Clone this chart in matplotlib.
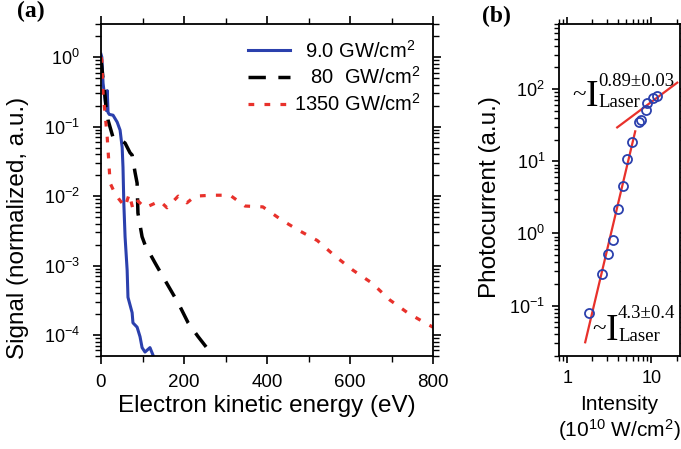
import matplotlib
matplotlib.use("Agg")
import matplotlib.pyplot as plt
from matplotlib.ticker import LogLocator, NullFormatter, MultipleLocator

plt.rcParams["font.family"] = ["Liberation Sans", "DejaVu Sans"]
plt.rcParams["mathtext.fontset"] = "custom"
plt.rcParams["mathtext.rm"] = "Liberation Sans"
plt.rcParams["mathtext.it"] = "Liberation Sans:italic"
plt.rcParams["mathtext.bf"] = "Liberation Sans:bold"

# (a) photoelectron spectra
e_9 = [0, 2, 5, 10, 13, 15, 17, 20, 29, 39, 46, 51, 53, 55, 58, 63, 65, 75, 77, 87, 94, 99, 106, 118, 125]
s_9 = [1.1, 1.0, 0.42, 0.24, 0.17, 0.33, 0.16, 0.15, 0.146, 0.116, 0.089, 0.05, 0.026, 0.0079,
       0.0026, 0.00086, 0.00035, 0.00021, 0.00015, 0.00013, 0.000095, 0.000066, 0.000057,
       0.000066, 0.000052]

e_80 = [0, 2, 5, 10, 12, 17, 29, 41, 51, 58, 70, 75, 82, 87, 89, 99, 106, 130, 147, 178, 190,
        210, 234, 265]
s_80 = [0.9, 0.72, 0.47, 0.27, 0.19, 0.124, 0.07, 0.064, 0.062, 0.058, 0.042, 0.039, 0.022,
        0.0154, 0.0057, 0.0026, 0.002, 0.0011, 0.00073, 0.00035, 0.00026, 0.00015, 0.000095,
        0.000055]

e_1350 = [0, 2, 3, 5, 10, 15, 19, 22, 31, 43, 58, 68, 77, 89, 106, 142, 159, 186, 207, 227, 267,
          311, 347, 390, 436, 477, 521, 564, 607, 653, 696, 740, 786, 800]
s_1350 = [1.0, 0.9, 0.6, 0.3, 0.15, 0.07, 0.03, 0.0154, 0.0118, 0.0091, 0.007, 0.0107, 0.0065,
          0.0085, 0.0068, 0.0085, 0.0068, 0.0100, 0.0080, 0.0100, 0.0103, 0.0103, 0.0072,
          0.0070, 0.0045, 0.0032, 0.0023, 0.00137, 0.00086, 0.00056, 0.00032, 0.000207,
          0.000144, 0.00013]

labels_a = ["  9.0 GW/cm$^2$", "   80  GW/cm$^2$", "1350 GW/cm$^2$"]

# (b) photocurrent vs intensity (10^10 W/cm^2)
intensity = [1.83, 2.61, 3.08, 3.53, 4.05, 4.64, 5.18, 5.9, 7.2, 7.6, 8.7, 9.0, 10.6, 11.8]
photocurrent = [0.08, 0.27, 0.52, 0.80, 2.2, 4.5, 10.6, 18.5, 34.5, 37, 52, 65, 76, 81]

# power-law fit lines, end points
fit_hi_x = [1.64, 6.45]
fit_hi_y = [0.031, 26]
fit_lo_x = [3.94, 20.4]
fit_lo_y = [29.5, 123]

blue = "#2b40ad"
red = "#e8312b"

fig = plt.figure(figsize=(6.81, 4.49), dpi=100)
W, H = 681.0, 449.0

ax = fig.add_axes([101 / W, 1 - 356 / H, 332 / W, 332 / H])
ax.plot(e_9, s_9, color=blue, lw=2.2, label=labels_a[0])
ax.plot(e_80, s_80, color="black", lw=2.5, dashes=(5, 3.6), label=labels_a[1])
ax.plot(e_1350, s_1350, color=red, lw=2.3, dashes=(1.8, 3.2), label=labels_a[2])
ax.set_yscale("log")
ax.set_xlim(0, 800)
ax.set_ylim(5e-5, 3)
ax.xaxis.set_major_locator(MultipleLocator(200))
ax.xaxis.set_minor_locator(MultipleLocator(100))
ax.yaxis.set_major_locator(LogLocator(base=10, numticks=10))
ax.yaxis.set_minor_locator(LogLocator(base=10, subs=range(2, 10), numticks=20))
ax.yaxis.set_minor_formatter(NullFormatter())
ax.tick_params(which="both", direction="out", top=True, right=True)
ax.tick_params(which="major", length=6, width=1.2)
ax.tick_params(which="minor", length=4, width=1.0)
ax.tick_params(axis="x", labelsize=13.5, pad=7)
ax.tick_params(axis="y", labelsize=13, pad=9)
for s in ax.spines.values():
    s.set_linewidth(1.3)
ax.set_xlabel("Electron kinetic energy (eV)", fontsize=17.5, labelpad=3)
ax.set_ylabel("Signal (normalized, a.u.)", fontsize=17.5, va="center")
ax.yaxis.set_label_coords(-0.25, 0.386)
ax.legend(loc="upper right", bbox_to_anchor=(1.0, 0.99), frameon=False, fontsize=14.5,
          handlelength=2.1, handletextpad=0.2, labelspacing=0.25, borderaxespad=0.2)

bx = fig.add_axes([559 / W, 1 - 356 / H, 121 / W, 332 / H])
bx.plot(fit_hi_x, fit_hi_y, color=red, lw=1.6)
bx.plot(fit_lo_x, fit_lo_y, color=red, lw=1.6)
bx.plot(intensity, photocurrent, "o", mfc="none", mec=blue, ms=6.5, mew=1.3)
bx.set_xscale("log")
bx.set_yscale("log")
bx.set_xlim(0.8, 22)
bx.set_ylim(0.02, 800)
bx.set_xticks([1, 10])
bx.set_xticklabels(["1", "10"])
bx.xaxis.set_minor_locator(LogLocator(base=10, subs=range(2, 10), numticks=20))
bx.xaxis.set_minor_formatter(NullFormatter())
bx.yaxis.set_major_locator(LogLocator(base=10, numticks=10))
bx.yaxis.set_minor_locator(LogLocator(base=10, subs=range(2, 10), numticks=20))
bx.yaxis.set_minor_formatter(NullFormatter())
bx.tick_params(which="both", direction="out", top=True, right=True)
bx.tick_params(which="major", length=5, width=1.2)
bx.tick_params(which="minor", length=3.5, width=1.0)
bx.tick_params(axis="both", labelsize=13, pad=5)
for s in bx.spines.values():
    s.set_linewidth(1.3)
bx.set_xlabel("Intensity\n(10$^{10}$ W/cm$^2$)", fontsize=15, labelpad=6, linespacing=1.15)
bx.set_ylabel("Photocurrent (a.u.)", fontsize=17.5, va="center")
bx.yaxis.set_label_coords(-0.57, 0.48)

serif = "Liberation Serif"


def power_label(x0, y_base, sup, sup_y):
    # "~I" with stacked Laser subscript and exponent, positions in pixels
    fig.text((x0 - 1) / W, 1 - (y_base - 5) / H, "~", family=serif, fontsize=18, ha="left", va="baseline")
    fig.text((x0 + 13) / W, 1 - y_base / H, "I", family=serif, fontsize=27, ha="left", va="baseline")
    fig.text((x0 + 25) / W, 1 - sup_y / H, sup, family=serif, fontsize=13.5, ha="left", va="baseline")
    fig.text((x0 + 25) / W, 1 - (y_base + 1) / H, "Laser", family=serif, fontsize=13.5, ha="left",
             va="baseline")


power_label(573, 106, "0.89\u00b10.03", 86)
power_label(593, 340, "4.3\u00b10.4", 318)

fig.text(17 / W, 1 - 11 / H, "(a)", family=serif, fontweight="bold", fontsize=17, ha="left", va="center")
fig.text(482 / W, 1 - 16 / H, "(b)", family=serif, fontweight="bold", fontsize=17, ha="left", va="center")

fig.savefig("out.png", dpi=100)
